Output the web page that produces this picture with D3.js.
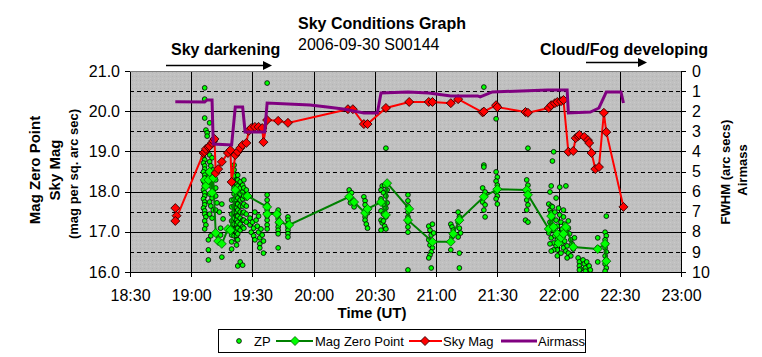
<!DOCTYPE html>
<html><head><meta charset="utf-8">
<script src="https://cdn.jsdelivr.net/npm/d3@7"></script>
<style>body{margin:0;background:#fff}svg{display:block;font-family:"Liberation Sans",Arial,sans-serif}</style>
</head><body><svg id="c" width="762" height="357"></svg>
<script>
// ---- data (time in decimal hours UT) ----
const xTickLabels = ["18:30","19:00","19:30","20:00","20:30","21:00","21:30","22:00","22:30","23:00"];
const leftTickLabels = ["16.0","17.0","18.0","19.0","20.0","21.0"];
const rightTickLabels = ["0","1","2","3","4","5","6","7","8","9","10"];
const seriesNames = ["ZP","Mag Zero Point","Sky Mag","Airmass"];

// individual zero-point measurements [hour, mag]
const zp = [
[19.11,20.58],[19.11,20.30],[19.11,19.83],[19.12,19.53],[19.13,19.46],[19.13,19.38],[19.15,19.71],
[19.10,18.86],[19.11,18.79],[19.10,18.71],[19.11,18.64],[19.11,18.56],[19.10,18.49],[19.11,18.41],[19.11,18.34],[19.10,18.26],[19.11,18.19],[19.11,18.11],[19.10,18.04],[19.11,17.97],[19.11,17.89],[19.10,17.82],[19.11,17.74],[19.11,17.67],[19.10,17.59],[19.11,17.52],[19.11,17.44],[19.12,17.37],[19.11,17.27],[19.12,17.17],[19.11,17.07],
[19.15,18.91],[19.17,18.84],[19.15,18.74],[19.16,18.64],[19.18,18.54],[19.15,18.44],[19.17,18.34],[19.15,18.24],[19.16,18.14],[19.18,18.04],[19.15,17.94],[19.17,17.84],[19.15,17.74],[19.16,17.64],[19.18,17.54],[19.15,17.44],[19.17,17.34],
[19.14,16.80],[19.16,16.90],[19.14,16.55],[19.14,16.30],
[19.20,18.29],[19.20,18.09],[19.20,17.89],[19.21,17.72],[19.20,17.54],
[19.25,17.69],[19.23,17.49],[19.26,17.32],[19.24,17.09],[19.24,16.92],[19.25,16.37],
[19.33,17.79],[19.33,17.62],[19.33,17.44],[19.33,17.27],[19.33,17.09],[19.33,16.92],[19.33,16.75],[19.33,16.57],
[19.35,18.66],[19.35,18.54],[19.35,18.39],[19.35,18.24],[19.35,18.09],[19.35,17.94],[19.35,17.80],[19.35,17.64],[19.35,17.49],[19.35,17.34],[19.35,17.19],[19.35,17.04],[19.35,16.90],
[19.37,18.29],[19.37,18.19],[19.37,18.09],[19.37,17.99],[19.37,17.89],[19.37,17.79],[19.37,17.69],[19.37,17.59],[19.37,17.49],[19.37,17.39],[19.37,17.29],[19.37,17.19],[19.37,17.09],[19.37,16.99],[19.37,16.90],[19.37,16.80],[19.37,16.67],
[19.38,18.41],[19.38,18.29],[19.38,18.14],[19.38,17.99],[19.38,17.84],[19.38,17.69],[19.38,17.54],[19.38,17.39],[19.38,17.24],[19.38,17.09],[19.38,16.95],[19.38,16.80],[19.38,16.15],
[19.40,18.24],[19.40,18.09],[19.40,17.94],[19.40,17.79],[19.40,17.64],[19.40,17.49],[19.40,17.34],[19.40,17.19],[19.40,17.04],[19.40,16.25],
[19.42,18.16],[19.42,17.99],[19.42,17.82],[19.42,17.64],[19.42,17.47],[19.42,17.29],[19.42,17.12],[19.42,16.17],
[19.43,18.29],[19.43,18.09],[19.43,17.89],[19.43,17.69],[19.43,17.49],[19.43,17.29],[19.43,17.09],
[19.45,18.04],[19.45,17.84],[19.45,17.64],[19.45,17.44],[19.45,17.24],
[19.48,17.34],[19.48,17.17],[19.49,16.99],[19.50,17.24],[19.51,17.09],[19.51,16.90],[19.52,16.80],[19.53,17.29],[19.54,17.14],[19.55,16.99],[19.56,16.85],[19.56,16.70],[19.56,16.60],[19.57,17.07],[19.58,16.92],[19.59,16.77],[19.59,16.47],[19.52,17.49],[19.55,17.39],
[19.62,20.70],[19.62,17.92],[19.62,17.79],[19.62,17.67],[19.62,17.54],[19.62,17.39],[19.62,17.29],[19.62,17.17],[19.62,17.07],
[19.71,17.54],[19.71,17.42],[19.71,17.32],[19.71,17.22],[19.71,17.12],[19.71,17.04],[19.71,16.95],[19.71,16.60],
[19.79,17.37],[19.79,17.29],[19.79,17.19],[19.79,17.12],[19.79,17.04],[19.79,16.95],[19.79,16.87],
[20.29,18.04],[20.31,17.97],[20.29,17.87],[20.32,17.79],[20.30,17.72],[20.33,17.62],
[20.41,17.87],[20.42,17.77],[20.42,17.67],[20.43,17.57],[20.44,17.47],[20.42,17.37],[20.42,17.29],[20.43,17.19],[20.44,17.09],
[20.56,18.14],[20.58,18.16],[20.55,18.04],[20.57,17.97],[20.59,17.89],[20.55,17.82],[20.56,17.74],[20.58,17.67],[20.59,17.59],[20.55,17.52],[20.57,17.44],[20.59,17.37],[20.55,17.29],[20.56,17.22],[20.58,17.14],[20.59,17.07],[20.55,17.04],[20.60,17.72],[20.60,18.04],[20.57,17.27],[20.59,19.08],
[20.77,17.92],[20.77,17.77],[20.77,17.64],[20.77,17.49],[20.77,17.37],[20.77,17.24],[20.77,17.12],[20.77,16.99],[20.77,16.05],
[20.94,17.14],[20.97,17.19],[20.95,17.04],[20.96,16.92],[20.94,16.80],[20.95,16.67],[20.97,16.60],[20.96,16.50],[20.95,16.42],[20.94,16.35],[20.96,16.10],[20.98,16.97],
[21.12,17.19],[21.13,17.12],[21.14,17.04],[21.13,16.87],[21.12,16.55],[21.18,17.49],[21.19,17.37],[21.18,17.24],[21.19,17.09],[21.20,16.97],[21.18,16.87],[21.19,16.47],[21.19,16.10],
[21.38,18.09],[21.40,17.99],[21.39,17.87],[21.38,17.74],[21.40,17.67],[21.39,17.54],[21.40,17.37],[21.39,20.60],[21.39,18.66],[21.39,18.61],
[21.49,18.49],[21.50,18.36],[21.49,18.26],[21.50,18.16],[21.49,17.99],[21.50,17.89],[21.49,17.82],[21.50,17.69],[21.49,19.81],
[21.74,18.29],[21.75,18.16],[21.74,18.04],[21.75,17.92],[21.74,17.79],[21.75,17.67],[21.74,17.54],[21.73,17.29],[21.75,17.24],[21.75,19.08],
[21.94,18.14],[21.93,17.99],[22.01,18.11],[22.06,18.14],[21.98,17.84],[21.96,18.99],[21.95,18.76],
[21.92,17.69],[21.93,17.54],[21.94,17.64],[21.94,17.47],[21.95,17.34],[21.93,17.24],[21.94,17.09],[21.92,16.97],[21.94,16.85],[21.96,16.72],
[21.95,17.62],[21.97,17.49],[21.98,17.29],[21.99,17.14],[21.96,17.04],[21.97,16.90],[21.99,16.80],[21.98,16.65],[21.99,16.55],
[22.00,17.59],[22.01,17.42],[22.02,17.24],[22.03,17.07],[22.00,16.97],[22.01,16.85],[22.03,16.72],[22.04,16.60],[22.02,16.47],
[22.04,17.54],[22.04,17.37],[22.05,17.19],[22.06,17.04],[22.04,16.90],[22.05,16.77],[22.07,16.65],[22.06,16.52],
[22.08,17.27],[22.08,17.09],[22.09,16.95],[22.10,16.80],[22.11,16.70],[22.12,16.57],[22.08,16.47],[22.10,16.40],[22.13,16.85],[22.07,16.35],[21.99,16.40],[21.96,16.55],[21.93,16.70],[21.94,16.52],
[22.16,16.35],[22.17,16.25],[22.17,16.15],[22.18,16.07],[22.20,16.30],[22.21,16.20],[22.22,16.10],[22.23,16.25],[22.25,16.15],[22.26,16.05],[22.17,16.05],[22.22,16.02],
[22.32,16.85],[22.32,16.60],[22.32,16.25],
[22.39,17.39],[22.38,16.99],[22.39,16.90],[22.38,16.80],[22.39,16.70],[22.38,16.60],[22.39,16.50],[22.38,16.40],[22.39,16.30],[22.38,16.20],[22.39,16.10],[22.38,16.02]
];

// averaged zero point [hour, mag]
const magZeroPoint = [
[19.11,18.29],[19.12,18.14],[19.14,18.29],[19.15,18.49],[19.17,17.97],[19.18,18.34],
[19.20,16.97],[19.22,16.77],[19.25,16.70],[19.30,17.07],[19.32,17.04],[19.36,18.04],[19.46,17.89],
[19.62,17.62],[19.62,17.44],[19.70,17.44],[19.72,17.24],[19.80,17.17],
[20.29,17.87],[20.33,17.74],[20.42,17.47],[20.44,17.57],[20.55,17.74],[20.59,17.42],[20.60,18.21],
[20.78,17.57],[20.77,17.29],[20.97,16.75],[21.12,16.75],[21.14,16.95],[21.19,17.29],[21.39,17.87],
[21.50,18.06],[21.74,18.04],[21.75,17.92],
[21.92,17.07],[21.94,17.39],[21.96,17.12],[21.99,16.95],[22.00,16.72],[22.02,16.85],[22.04,16.95],[22.06,17.12],[22.12,16.62],
[22.32,16.57],[22.38,16.70],[22.39,16.27]
];

// sky brightness [hour, mag per sq arcsec]
const skyMag = [
[18.87,17.59],[18.88,17.40],[18.87,17.27],
[19.10,18.96],[19.11,18.99],[19.12,19.06],[19.14,19.11],[19.15,19.13],[19.17,19.21],[19.18,19.26],[19.19,19.31],
[19.20,18.46],[19.22,18.56],[19.25,18.74],[19.30,18.96],[19.32,19.03],[19.33,18.24],
[19.36,18.91],[19.38,18.99],[19.40,19.08],[19.42,19.16],[19.45,19.21],[19.47,19.51],[19.49,19.58],[19.52,19.61],[19.55,19.61],[19.58,19.58],[19.59,19.23],
[19.62,19.78],[19.71,19.76],[19.79,19.71],
[20.28,20.05],[20.32,20.05],[20.41,19.68],[20.44,19.68],[20.59,20.08],[20.78,20.23],[20.94,20.23],[20.97,20.23],
[21.12,20.20],[21.18,20.30],[21.38,19.97],[21.39,19.99],[21.49,20.15],[21.50,20.10],[21.73,19.98],[21.75,19.96],
[21.92,20.08],[21.94,20.15],[21.97,20.20],[21.99,20.23],[22.02,20.25],[22.04,20.28],
[22.08,18.99],[22.12,19.01],[22.14,19.33],[22.16,19.38],[22.17,19.41],[22.21,19.36],[22.24,19.28],[22.25,19.21],[22.27,18.96],
[22.30,18.56],[22.33,18.61],[22.37,19.96],[22.39,19.48],[22.53,17.62]
];

// airmass [hour, airmass] (right axis)
const airmass = [
[18.87,1.53],[19.11,1.54],[19.13,1.44],[19.17,1.44],[19.18,3.63],[19.33,3.68],[19.36,1.79],[19.42,1.79],
[19.44,3.03],[19.60,3.03],[19.62,1.59],[19.97,1.69],[20.11,1.79],[20.24,1.89],[20.41,2.09],[20.52,2.09],
[20.55,1.09],[20.77,1.04],[20.94,1.09],[21.12,1.24],[21.34,1.24],[21.36,1.29],[21.46,1.04],[21.91,0.95],
[22.07,0.95],[22.08,2.09],[22.26,2.04],[22.33,1.84],[22.39,1.04],[22.51,1.04],[22.53,1.59]
];

// ---- drawing ----
const svg = d3.select("#c");
const L = 130, R = 681, T = 71, B = 272;
const x = d3.scaleLinear().domain([18.5, 23]).range([L, R]);
const yL = d3.scaleLinear().domain([16, 21]).range([B, T]);
const yR = d3.scaleLinear().domain([0, 10]).range([T, B]);
const xTicks = xTickLabels.map((s,i)=>18.5+i*0.5);
const yTicks = leftTickLabels.map(Number);

const defs = svg.append("defs");
const pat = defs.append("pattern").attr("id","bg").attr("width",4).attr("height",4).attr("patternUnits","userSpaceOnUse");
pat.append("rect").attr("width",4).attr("height",4).attr("fill","#c0c0c0");
pat.append("rect").attr("x",0).attr("y",0).attr("width",1).attr("height",1).attr("fill","#b4b4b4");
pat.append("rect").attr("x",2).attr("y",2).attr("width",1).attr("height",1).attr("fill","#cacaca");
defs.append("clipPath").attr("id","clip").append("rect").attr("x",L).attr("y",T).attr("width",R-L).attr("height",B-T);

svg.append("rect").attr("x",L).attr("y",T).attr("width",R-L).attr("height",B-T).attr("fill","url(#bg)");

// gridlines
const grid = svg.append("g").attr("shape-rendering","crispEdges");
grid.selectAll(".hd").data(d3.range(16.5,21,1)).join("line")
  .attr("x1",L).attr("x2",R).attr("y1",d=>Math.round(yL(d))+0.5).attr("y2",d=>Math.round(yL(d))+0.5)
  .attr("stroke","#000").attr("stroke-dasharray","4,3");
grid.selectAll(".hs").data([17,18,19,20]).join("line")
  .attr("x1",L).attr("x2",R).attr("y1",d=>Math.round(yL(d))+0.5).attr("y2",d=>Math.round(yL(d))+0.5)
  .attr("stroke","#000");
grid.selectAll(".vs").data(xTicks.slice(1,-1)).join("line")
  .attr("y1",T).attr("y2",B).attr("x1",d=>Math.round(x(d))+0.5).attr("x2",d=>Math.round(x(d))+0.5)
  .attr("stroke","#000");
grid.append("line").attr("x1",L).attr("x2",R).attr("y1",T+0.5).attr("y2",T+0.5).attr("stroke","#808080");

const fmtTime = d => xTickLabels[Math.round((d-18.5)/0.5)];

// axes
const axB = svg.append("g").attr("transform",`translate(0,${B})`)
  .call(d3.axisBottom(x).tickValues(xTicks).tickFormat(fmtTime).tickSize(5).tickSizeOuter(0));
const axL = svg.append("g").attr("transform",`translate(${L},0)`)
  .call(d3.axisLeft(yL).tickValues(yTicks).tickFormat((d,i)=>leftTickLabels[i]).tickSize(5).tickSizeOuter(0));
const axR = svg.append("g").attr("transform",`translate(${R},0)`)
  .call(d3.axisRight(yR).tickValues(d3.range(0,11)).tickFormat((d,i)=>rightTickLabels[i]).tickSize(5).tickSizeOuter(0));
[axB,axL,axR].forEach(a=>{
  a.selectAll("path,line").attr("stroke","#000").attr("shape-rendering","crispEdges");
  a.selectAll("text").attr("font-size",16).attr("fill","#000").attr("font-family","'Liberation Sans',Arial,sans-serif");
});
axB.selectAll("text").attr("y",14).attr("dy","0.95em");
axL.selectAll("text").attr("x",-10);
axR.selectAll("text").attr("x",11);

// series
const plot = svg.append("g").attr("clip-path","url(#clip)");
plot.selectAll(".zp").data(zp).join("circle")
  .attr("cx",d=>x(d[0])).attr("cy",d=>yL(d[1])).attr("r",2.4)
  .attr("fill","#00ff00").attr("stroke","#000").attr("stroke-width",0.8);

const diamond = (s) => `M0,${-s}L${s},0L0,${s}L${-s},0Z`;
const lineL = d3.line().x(d=>x(d[0])).y(d=>yL(d[1]));
plot.append("path").datum(magZeroPoint).attr("d",lineL).attr("fill","none").attr("stroke","#008000").attr("stroke-width",2);
plot.selectAll(".mzp").data(magZeroPoint).join("path")
  .attr("transform",d=>`translate(${x(d[0])},${yL(d[1])})`).attr("d",diamond(4.5))
  .attr("fill","#00ff00").attr("stroke","#006000").attr("stroke-width",0.8);

plot.append("path").datum(skyMag).attr("d",lineL).attr("fill","none").attr("stroke","#ff0000").attr("stroke-width",2);
plot.selectAll(".sky").data(skyMag).join("path")
  .attr("transform",d=>`translate(${x(d[0])},${yL(d[1])})`).attr("d",diamond(4.5))
  .attr("fill","#ff0000").attr("stroke","#300000").attr("stroke-width",0.9);

const lineR = d3.line().x(d=>x(d[0])).y(d=>yR(d[1]));
plot.append("path").datum(airmass).attr("d",lineR).attr("fill","none").attr("stroke","#800080").attr("stroke-width",3).attr("stroke-linejoin","miter");

// titles
const txt = (xx,yy,s,size,bold,anchor,rot) => {
  const t = svg.append("text").attr("x",xx).attr("y",yy).text(s).attr("font-size",size)
    .attr("font-weight",bold?"bold":"normal").attr("text-anchor",anchor||"start").attr("fill","#000");
  if (rot) t.attr("transform",`rotate(-90,${xx},${yy})`);
  return t;
};
txt(298,29,"Sky Conditions Graph",16,true,"start");
txt(298,50,"2006-09-30 S00144",16,false,"start");
txt(171,55,"Sky darkening",16,true,"start");
txt(540,55,"Cloud/Fog developing",16,true,"start");
txt(372,318,"Time (UT)",15,true,"middle");
txt(39.5,170,"Mag Zero Point",15,true,"middle",true);
txt(60,170,"Sky Mag",15,true,"middle",true);
txt(78,174,"(mag per sq. arc sec)",13,true,"middle",true);
txt(730,172,"FWHM (arc secs)",13,true,"middle",true);
txt(747,170,"Airmass",13,true,"middle",true);

// arrows
const arrow = (x1,x2,yy) => {
  svg.append("line").attr("x1",x1).attr("x2",x2-8).attr("y1",yy).attr("y2",yy).attr("stroke","#000").attr("stroke-width",1.3);
  svg.append("path").attr("d",`M${x2},${yy}L${x2-9},${yy-4.5}L${x2-9},${yy+4.5}Z`).attr("fill","#000");
};
arrow(166,272,65.5);
arrow(586,647,62.5);

// legend
const lg = svg.append("g");
lg.append("rect").attr("x",218.5).attr("y",329.5).attr("width",367).attr("height",23).attr("fill","#fff").attr("stroke","#000");
const ly = 341;
lg.append("circle").attr("cx",239).attr("cy",ly).attr("r",2.4).attr("fill","#00ff00").attr("stroke","#000").attr("stroke-width",0.8);
lg.append("text").attr("x",254).attr("y",ly+5).text(seriesNames[0]).attr("font-size",13);
lg.append("line").attr("x1",276).attr("x2",313).attr("y1",ly).attr("y2",ly).attr("stroke","#008000").attr("stroke-width",2);
lg.append("path").attr("transform",`translate(295,${ly})`).attr("d",diamond(4.5)).attr("fill","#00ff00").attr("stroke","#006000").attr("stroke-width",0.8);
lg.append("text").attr("x",315).attr("y",ly+5).text(seriesNames[1]).attr("font-size",13);
lg.append("line").attr("x1",409).attr("x2",442).attr("y1",ly).attr("y2",ly).attr("stroke","#ff0000").attr("stroke-width",2);
lg.append("path").attr("transform",`translate(425,${ly})`).attr("d",diamond(4.5)).attr("fill","#ff0000").attr("stroke","#300000").attr("stroke-width",0.9);
lg.append("text").attr("x",443).attr("y",ly+5).text(seriesNames[2]).attr("font-size",13);
lg.append("line").attr("x1",501).attr("x2",537).attr("y1",ly).attr("y2",ly).attr("stroke","#800080").attr("stroke-width",3);
lg.append("text").attr("x",538).attr("y",ly+5).text(seriesNames[3]).attr("font-size",13);
</script></body></html>
